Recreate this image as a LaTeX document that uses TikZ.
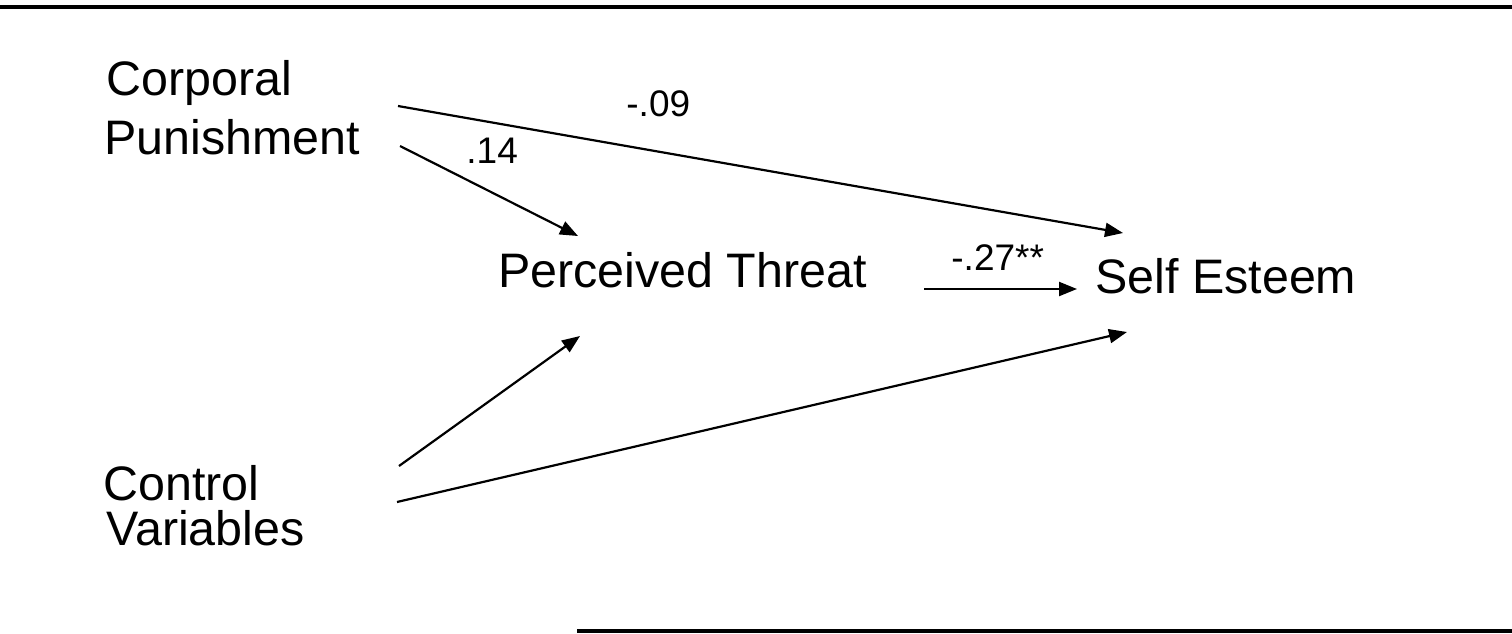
\documentclass[tikz,border=0pt]{standalone}
\usepackage{fontspec}
\setmainfont{Liberation Sans}
\usetikzlibrary{arrows.meta}
\begin{document}
\begin{tikzpicture}[x=0.5pt,y=-0.5pt,
  txt/.style={anchor=base west,inner sep=0pt,font=\fontsize{24.2}{27}\selectfont},
  lbl/.style={anchor=base west,inner sep=0pt,font=\fontsize{18.5}{21}\selectfont},
  path/.style={line width=1.1pt,-{Triangle[length=9pt,width=7pt]}},
  rule/.style={line width=1.6pt}]
\useasboundingbox (0,0) rectangle (1512,633);
% rules
\coordinate (t1) at (0,7);
\coordinate (t2) at (1512,7);
\coordinate (b1) at (577,631);
\coordinate (b2) at (1512,631);
\draw[rule] (t1) -- (t2);
\draw[rule] (b1) -- (b2);
% texts
\node[txt] (cp1) at (106,95) {Corporal};
\node[txt] (cp2) at (104,154) {Punishment};
\node[txt] (cv1) at (103,500) {Control};
\node[txt] (cv2) at (106,545) {Variables};
\node[txt] (pt) at (498,287) {Perceived Threat};
\node[txt] (se) at (1095,293) {Self Esteem};
% labels
\node[lbl] (l14) at (466,163) {.14};
\node[lbl] (l09) at (626,116) {-.09};
\node[lbl] (l27) at (951,270) {-.27**};
% connector ends
\coordinate (cpA) at (400,146);
\coordinate (ptA) at (578,236);
\coordinate (cpB) at (398,106);
\coordinate (seA) at (1123,233);
\coordinate (ptB) at (924,289);
\coordinate (seB) at (1077,289);
\coordinate (cvA) at (399,466);
\coordinate (ptC) at (580,336);
\coordinate (cvB) at (397,502);
\coordinate (seC) at (1127,332);
\draw[path] (cpA) -- (ptA);
\draw[path] (cpB) -- (seA);
\draw[path] (ptB) -- (seB);
\draw[path] (cvA) -- (ptC);
\draw[path] (cvB) -- (seC);
\end{tikzpicture}
\end{document}
